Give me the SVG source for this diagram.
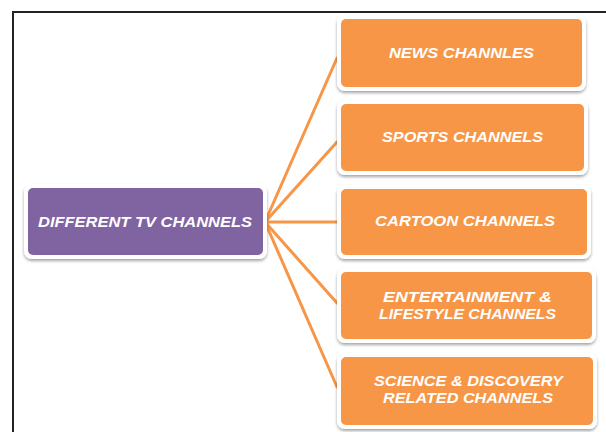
<svg xmlns="http://www.w3.org/2000/svg" width="606" height="432" viewBox="0 0 606 432">
<defs>
<filter id="sh" x="-10%" y="-20%" width="120%" height="150%">
<feDropShadow dx="0" dy="2" stdDeviation="1.5" flood-color="#000" flood-opacity="0.35"/>
</filter>
<style>
.frame{fill:none;stroke:#222;stroke-width:2}
.outer{fill:#fff;filter:url(#sh)}
.orange{fill:#F79646}
.purple{fill:#8064A2}
.lbl{font-family:"Liberation Sans","Open Sans",sans-serif;font-weight:bold;font-style:italic;font-size:14px;fill:#fff;text-anchor:middle}
.conn{stroke:#F79646;stroke-width:3;fill:none;stroke-linecap:round}
</style>
</defs>
<rect width="606" height="432" fill="#fff"/>
<rect class="frame" x="13" y="12" width="600" height="430"/>
<g id="connectors">
<line class="conn" x1="265" y1="222" x2="337" y2="58"/>
<line class="conn" x1="265" y1="222" x2="337" y2="142"/>
<line class="conn" x1="265" y1="222" x2="337" y2="222"/>
<line class="conn" x1="265" y1="222" x2="337" y2="303"/>
<line class="conn" x1="265" y1="222" x2="337" y2="387"/>
</g>
<g id="root">
<rect class="outer" x="24" y="184" width="243" height="75" rx="8"/>
<rect class="purple" x="28" y="188" width="235" height="67" rx="5"/>
<text class="lbl" x="145" y="227" textLength="214" lengthAdjust="spacingAndGlyphs">DIFFERENT TV CHANNELS</text>
</g>
<g id="news">
<rect class="outer" x="337" y="15" width="249" height="76" rx="8"/>
<rect class="orange" x="341" y="19" width="241" height="68" rx="5"/>
<text class="lbl" x="461.5" y="58" textLength="145" lengthAdjust="spacingAndGlyphs">NEWS CHANNLES</text>
</g>
<g id="sports">
<rect class="outer" x="337" y="100" width="251" height="75" rx="8"/>
<rect class="orange" x="341" y="104" width="243" height="67" rx="5"/>
<text class="lbl" x="462.5" y="142" textLength="161" lengthAdjust="spacingAndGlyphs">SPORTS CHANNELS</text>
</g>
<g id="cartoon">
<rect class="outer" x="337" y="185" width="254" height="74" rx="8"/>
<rect class="orange" x="341" y="189" width="246" height="66" rx="5"/>
<text class="lbl" x="465" y="226" textLength="180" lengthAdjust="spacingAndGlyphs">CARTOON CHANNELS</text>
</g>
<g id="entertainment">
<rect class="outer" x="337" y="268" width="259" height="75" rx="8"/>
<rect class="orange" x="341" y="272" width="251" height="67" rx="5"/>
<text class="lbl" x="467.5" y="302" textLength="169" lengthAdjust="spacingAndGlyphs">ENTERTAINMENT  &amp;</text>
<text class="lbl" x="467.5" y="319" textLength="177" lengthAdjust="spacingAndGlyphs">LIFESTYLE CHANNELS</text>
</g>
<g id="science">
<rect class="outer" x="337" y="353" width="260" height="76" rx="8"/>
<rect class="orange" x="341" y="357" width="252" height="68" rx="5"/>
<text class="lbl" x="468.5" y="386" textLength="189" lengthAdjust="spacingAndGlyphs">SCIENCE &amp; DISCOVERY</text>
<text class="lbl" x="468" y="403" textLength="170" lengthAdjust="spacingAndGlyphs">RELATED CHANNELS</text>
</g>
</svg>
